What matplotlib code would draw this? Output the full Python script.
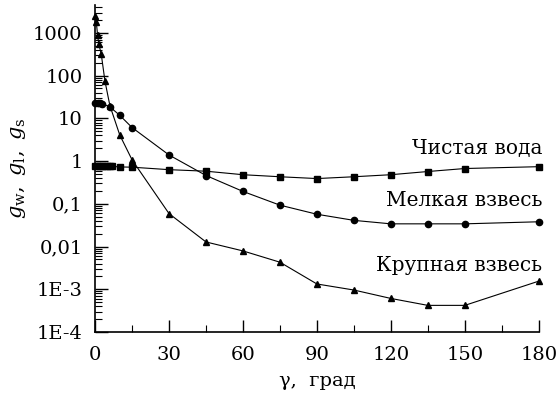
import numpy as np
import matplotlib.pyplot as plt
from matplotlib.ticker import FixedLocator, FixedFormatter, LogLocator, NullFormatter

plt.rcParams['font.family'] = ['DejaVu Serif']
plt.rcParams['mathtext.fontset'] = 'dejavuserif'
plt.rcParams['xtick.direction'] = 'in'
plt.rcParams['ytick.direction'] = 'in'

# Чистая вода (squares)
water_x = [0, 1, 2, 3, 4, 5, 6, 7, 10, 15, 30, 45, 60, 75, 90, 105, 120, 135, 150, 180]
water_y = [0.75, 0.75, 0.75, 0.75, 0.75, 0.75, 0.75, 0.75, 0.73, 0.72, 0.63, 0.58,
           0.48, 0.43, 0.39, 0.43, 0.48, 0.57, 0.67, 0.74]

# Мелкая взвесь (circles)
fine_x = [0, 1, 2, 3, 6, 10, 15, 30, 45, 60, 75, 90, 105, 120, 135, 150, 180]
fine_y = [23.5, 23.5, 23, 22, 18.6, 11.8, 6.1, 1.39, 0.46, 0.195, 0.093, 0.057,
          0.041, 0.034, 0.034, 0.034, 0.038]

# Крупная взвесь (triangles)
coarse_x = [0, 0.5, 1, 1.5, 2.5, 4, 6, 10, 15, 30, 45, 60, 75, 90, 105, 120, 135, 150, 180]
coarse_y = [2500, 1800, 900, 550, 320, 75, 20, 4.1, 1.07, 0.059, 0.0128, 0.0079,
            0.0043, 0.00133, 0.00096, 0.00061, 0.00042, 0.00042, 0.00155]

ytick_vals = [1e-4, 1e-3, 1e-2, 1e-1, 1, 10, 100, 1000]
ytick_labels = ['1E-4', '1E-3', '0,01', '0,1', '1', '10', '100', '1000']

fig = plt.figure(figsize=(5.56, 4.0), dpi=100)
ax = fig.add_axes([0.171, 0.17, 0.798, 0.8175])

ax.plot(water_x, water_y, color='black', lw=0.8, marker='s', ms=5, clip_on=False)
ax.plot(fine_x, fine_y, color='black', lw=0.8, marker='o', ms=4.5, clip_on=False)
ax.plot(coarse_x, coarse_y, color='black', lw=0.8, marker='^', ms=4.5, clip_on=False)

ax.set_yscale('log')
ax.set_xlim(0, 180)
ax.set_ylim(1e-4, 4500)

ax.xaxis.set_major_locator(FixedLocator([0, 30, 60, 90, 120, 150, 180]))
ax.xaxis.set_minor_locator(FixedLocator([15, 45, 75, 105, 135, 165]))
ax.yaxis.set_major_locator(FixedLocator(ytick_vals))
ax.yaxis.set_major_formatter(FixedFormatter(ytick_labels))
ax.yaxis.set_minor_locator(LogLocator(base=10, subs=np.arange(2, 10)))
ax.yaxis.set_minor_formatter(NullFormatter())

ax.tick_params(which='major', length=9, width=1, labelsize=14)
ax.tick_params(which='minor', length=5, width=0.8)
ax.tick_params(axis='x', pad=10)
ax.tick_params(axis='y', pad=9)

for s in ['top', 'right']:
    ax.spines[s].set_visible(False)
for s in ['left', 'bottom']:
    ax.spines[s].set_linewidth(1.2)

ax.text(181.5, 2.0, 'Чистая вода', ha='right', va='center', fontsize=14.5, clip_on=False)
ax.text(181.5, 0.12, 'Мелкая взвесь', ha='right', va='center', fontsize=14.5, clip_on=False)
ax.text(181.5, 0.0036, 'Крупная взвесь', ha='right', va='center', fontsize=14.5, clip_on=False)

ax.set_xlabel('γ,  град', fontsize=14, labelpad=6)
ax.set_ylabel(r'$g_{\rm w},\ g_{\rm l},\ g_{\rm s}$', fontsize=15, labelpad=4)

fig.savefig('out.png', dpi=100)
